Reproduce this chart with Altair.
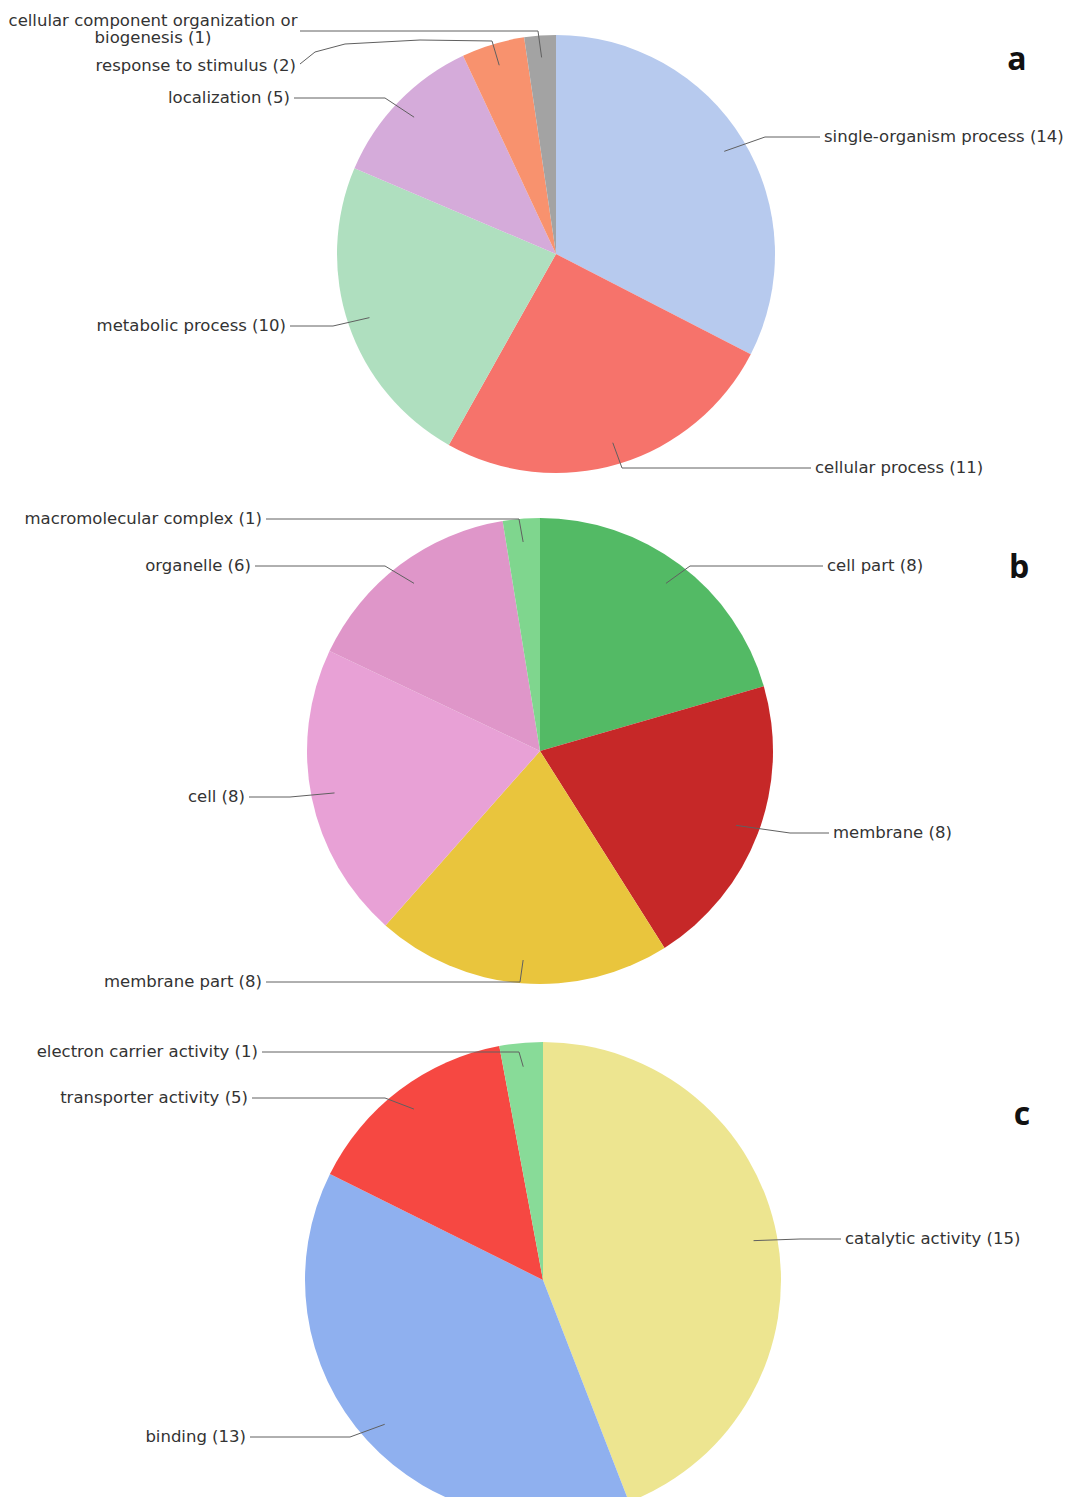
import math
import altair as alt
import pandas as pd

# ---------------- data ----------------
a_names = ["single-organism process", "cellular process", "metabolic process",
           "localization", "response to stimulus",
           "cellular component organization or\nbiogenesis"]
a_values = [14, 11, 10, 5, 2, 1]
a_colors = ["#b7caee", "#f6736b", "#afdfbf", "#d5abda", "#f8926e", "#a3a3a3"]

b_names = ["cell part", "membrane", "membrane part", "cell", "organelle",
           "macromolecular complex"]
b_values = [8, 8, 8, 8, 6, 1]
b_colors = ["#53ba65", "#c62828", "#e9c53d", "#e8a1d6", "#df96c9", "#7fd68e"]

c_names = ["catalytic activity", "binding", "transporter activity",
           "electron carrier activity"]
c_values = [15, 13, 5, 1]
c_colors = ["#ede590", "#8fb0ef", "#f64842", "#88db98"]

panel_letters = ["a", "b", "c"]

# ---------------- layout ----------------
W, H = 1070, 1497
pies = [
    dict(cx=556, cy=254, r=219, letter=(1017, 60)),
    dict(cx=540, cy=751, r=233, letter=(1019, 568)),
    dict(cx=543, cy=1280, r=238, letter=(1022, 1115)),
]
# label layout: text x, text y, align, leader points after the anchor
a_layout = [
    (824, 137, "left", [(765, 137), (820, 137)]),
    (815, 468, "left", [(622, 468), (811, 468)]),
    (286, 326, "right", [(333, 326), (290, 326)]),
    (290, 98, "right", [(385, 98), (294, 98)]),
    (296, 66, "right", [(492, 41), (420, 40), (345, 44), (315, 52), (300, 64)]),
    (153, 21, "center", [(538, 31), (300, 31)]),
]
b_layout = [
    (827, 566, "left", [(690, 566), (823, 566)]),
    (833, 833, "left", [(790, 833), (829, 833)]),
    (262, 982, "right", [(520, 982), (266, 982)]),
    (245, 797, "right", [(290, 797), (249, 797)]),
    (251, 566, "right", [(385, 566), (255, 566)]),
    (262, 519, "right", [(519, 519), (266, 519)]),
]
c_layout = [
    (845, 1239, "left", [(800, 1239), (841, 1239)]),
    (246, 1437, "right", [(350, 1437), (250, 1437)]),
    (248, 1098, "right", [(385, 1098), (252, 1098)]),
    (258, 1052, "right", [(519, 1052), (262, 1052)]),
]

groups = [(a_names, a_values, a_colors, a_layout),
          (b_names, b_values, b_colors, b_layout),
          (c_names, c_values, c_colors, c_layout)]

xs = alt.Scale(domain=[0, W], nice=False, zero=False)
ys = alt.Scale(domain=[0, H], nice=False, zero=False, reverse=True)

layers = []
text_rows = []
line_rows = []
letter_rows = []
lid = 0
for gi, (names, values, colors, layout) in enumerate(groups):
    p = pies[gi]
    df = pd.DataFrame({"name": names, "value": values, "color": colors,
                       "idx": list(range(len(values)))})
    arc = alt.Chart(df).mark_arc(outerRadius=p["r"], stroke=None).encode(
        theta=alt.Theta("value:Q", stack=True),
        order=alt.Order("idx:Q"),
        color=alt.Color("color:N", scale=None),
        x=alt.value(p["cx"]),
        y=alt.value(p["cy"]),
    )
    layers.append(arc)
    total = sum(values)
    cum = 0
    for name, v, lay in zip(names, values, layout):
        mid = (cum + v / 2) / total * 2 * math.pi
        cum += v
        ax = p["cx"] + 0.9 * p["r"] * math.sin(mid)
        ay = p["cy"] - 0.9 * p["r"] * math.cos(mid)
        tx, ty, align, pts = lay
        text_rows.append(dict(x=tx, y=ty, align=align, label=f"{name} ({v})"))
        allpts = [(ax, ay)] + pts
        for k, (px, py) in enumerate(allpts):
            line_rows.append(dict(lid=lid, k=k, x=px, y=py))
        lid += 1
    letter_rows.append(dict(x=p["letter"][0], y=p["letter"][1],
                            letter=panel_letters[gi]))

lines_df = pd.DataFrame(line_rows)
text_df = pd.DataFrame(text_rows)
letters_df = pd.DataFrame(letter_rows)

lines = alt.Chart(lines_df).mark_line(color="#606060", strokeWidth=1).encode(
    x=alt.X("x:Q", scale=xs, axis=None),
    y=alt.Y("y:Q", scale=ys, axis=None),
    detail="lid:N",
    order="k:Q",
)
layers.append(lines)

for align in ["left", "right", "center"]:
    sub = text_df[text_df["align"] == align]
    t = alt.Chart(sub).mark_text(
        align=align, baseline="middle", font="DejaVu Sans", fontSize=16.5,
        color="#333333", lineBreak="\n", lineHeight=17,
    ).encode(
        x=alt.X("x:Q", scale=xs, axis=None),
        y=alt.Y("y:Q", scale=ys, axis=None),
        text="label:N",
    )
    layers.append(t)

letters = alt.Chart(letters_df).mark_text(
    align="center", baseline="middle", font="Open Sans", fontSize=32,
    fontWeight="bold", color="#111111",
).encode(
    x=alt.X("x:Q", scale=xs, axis=None),
    y=alt.Y("y:Q", scale=ys, axis=None),
    text="letter:N",
)
layers.append(letters)

chart = alt.layer(*layers).resolve_scale(theta="independent").properties(
    width=W, height=H, padding=0, autosize="none", background="white",
).configure_view(stroke=None)

chart.save("out.html", embed_options={"renderer": "svg", "actions": False})
